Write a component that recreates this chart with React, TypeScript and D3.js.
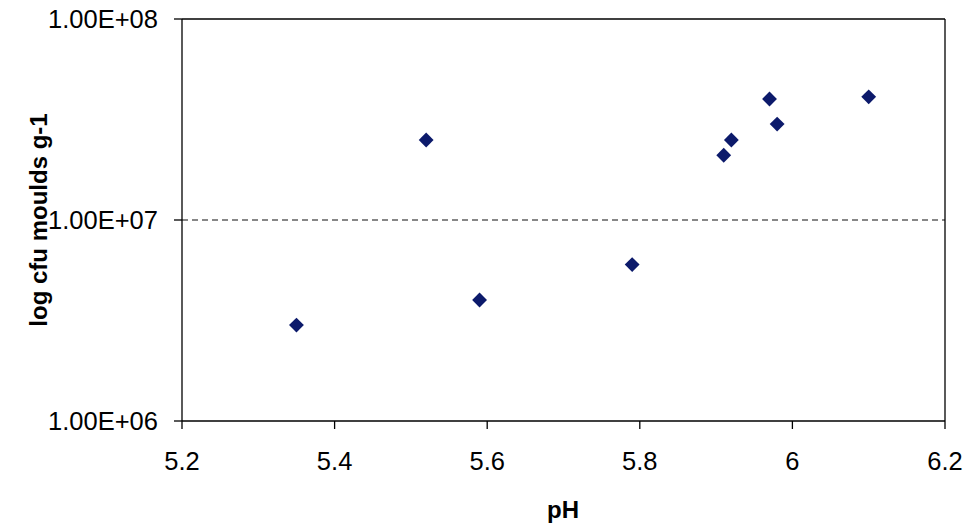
import React from "react";
import * as d3 from "d3";

const phValues = [5.35, 5.52, 5.59, 5.79, 5.91, 5.92, 5.97, 5.98, 6.1];
const cfuValues = [3.0e6, 2.5e7, 4.0e6, 6.0e6, 2.1e7, 2.5e7, 4.0e7, 3.0e7, 4.1e7];
const xTicks = [5.2, 5.4, 5.6, 5.8, 6, 6.2];
const yTicks = [1e6, 1e7, 1e8];
const yTickLabels = ["1.00E+06", "1.00E+07", "1.00E+08"];
const xTitle = "pH";
const yTitle = "log cfu moulds g-1";

export default function App() {
  const W = 969, H = 523;
  const left = 182, right = 945, top = 19, bottom = 421;
  const x = d3.scaleLinear().domain([5.2, 6.2]).range([left, right]);
  const y = d3.scaleLog().domain([1e6, 1e8]).range([bottom, top]);
  const font = "'Liberation Sans', Arial, sans-serif";
  const navy = "#0c1a6b";
  const diamond = d3.symbol().type(d3.symbolDiamond2).size(140)();
  return (
    <svg width={W} height={H} style={{ position: "absolute", left: 0, top: 0, background: "#fff" }}>
      <rect x={0} y={0} width={W} height={H} fill="#fff" />
      {/* dashed gridline at 1e7 */}
      <line x1={left} x2={right} y1={y(1e7)} y2={y(1e7)} stroke="#111" strokeWidth={1.2} strokeDasharray="6,4" />
      {/* frame */}
      <line x1={left} x2={right} y1={top} y2={top} stroke="#000" strokeWidth={1.3} />
      <line x1={left} x2={right} y1={bottom} y2={bottom} stroke="#000" strokeWidth={1.3} />
      <line x1={left} x2={left} y1={top} y2={bottom} stroke="#000" strokeWidth={1.3} />
      <line x1={right} x2={right} y1={top} y2={bottom} stroke="#000" strokeWidth={1.3} />
      {/* y ticks */}
      {yTicks.map((t, i) => (
        <g key={"y" + i}>
          <line x1={left - 8} x2={left} y1={y(t)} y2={y(t)} stroke="#000" strokeWidth={1.3} />
          <text x={158} y={y(t)} dy="0.36em" textAnchor="end" fontFamily={font} fontSize={25.5} fill="#000">
            {yTickLabels[i]}
          </text>
        </g>
      ))}
      {/* x ticks */}
      {xTicks.map((t, i) => (
        <g key={"x" + i}>
          <line x1={x(t)} x2={x(t)} y1={bottom} y2={bottom + 8} stroke="#000" strokeWidth={1.3} />
          <text x={x(t)} y={470} textAnchor="middle" fontFamily={font} fontSize={25.5} fill="#000">
            {String(t)}
          </text>
        </g>
      ))}
      {/* titles */}
      <text x={563} y={518} textAnchor="middle" fontFamily={font} fontWeight="bold" fontSize={24} fill="#000">
        {xTitle}
      </text>
      <text
        transform={`translate(47,${(top + bottom) / 2}) rotate(-90)`}
        textAnchor="middle"
        fontFamily={font}
        fontWeight="bold"
        fontSize={24}
        fill="#000"
      >
        {yTitle}
      </text>
      {/* points */}
      {phValues.map((p, i) => (
        <path key={"p" + i} d={diamond} transform={`translate(${x(p)},${y(cfuValues[i])})`} fill={navy} />
      ))}
    </svg>
  );
}
